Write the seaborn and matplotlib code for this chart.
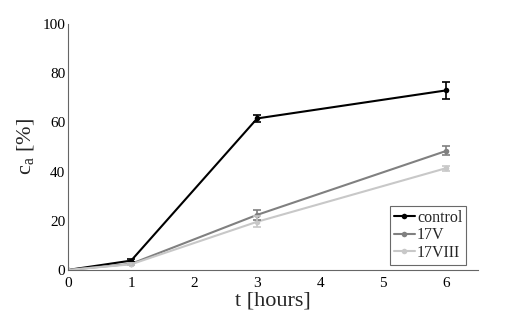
import matplotlib
matplotlib.use("Agg")
import matplotlib.pyplot as plt
import seaborn as sns
import pandas as pd

t = [0, 1, 3, 6]
control = [0, 3.8, 61.6, 73.0]
control_err = [0, 0.6, 1.4, 3.5]
v17 = [0, 2.5, 22.4, 48.4]
v17_err = [0, 0.4, 2.0, 1.8]
v17viii = [0, 2.3, 19.6, 41.4]
v17viii_err = [0, 0.4, 2.2, 1.0]

series = ["control", "17V", "17VIII"]
colors = ["#000000", "#808080", "#c8c8c8"]

rows = []
for name, vals, errs in [("control", control, control_err), ("17V", v17, v17_err), ("17VIII", v17viii, v17viii_err)]:
    for ti, v, e in zip(t, vals, errs):
        rows.append({"t": ti, "value": v, "err": e, "series": name})
df = pd.DataFrame(rows)

sns.set_style("white")
plt.rcParams["font.family"] = ["Liberation Serif", "DejaVu Serif"]
plt.rcParams["mathtext.fontset"] = "custom"
plt.rcParams["mathtext.rm"] = "Liberation Serif"

fig = plt.figure(figsize=(5.28, 3.11), dpi=100)
ax = fig.add_axes([0.129, 0.132, 0.776, 0.791])

sns.lineplot(data=df, x="t", y="value", hue="series", hue_order=series,
             palette=colors, marker="o", markersize=4, markeredgewidth=0,
             linewidth=1.5, ax=ax, legend=True)
for name, c in zip(series, colors):
    sub = df[df.series == name]
    ax.errorbar(sub["t"], sub["value"], yerr=sub["err"], fmt="none",
                ecolor=c, elinewidth=1.2, capsize=3, capthick=1.2)

ax.set_xlim(0, 6.5)
ax.set_ylim(0, 100)
ax.set_xticks([0, 1, 2, 3, 4, 5, 6])
ax.set_yticks([0, 20, 40, 60, 80, 100])
ax.tick_params(direction="in", length=4, width=0.8, color="#666666",
               labelsize=11, labelcolor="black")
ax.tick_params(axis="x", pad=5)
ax.tick_params(axis="y", pad=2)
for s in ["top", "right"]:
    ax.spines[s].set_visible(False)
for s in ["left", "bottom"]:
    ax.spines[s].set_color("#666666")
    ax.spines[s].set_linewidth(0.8)

ax.set_xlabel("t [hours]", fontsize=16, labelpad=1)
ax.set_ylabel(r"c$_\mathregular{a}$ [%]", fontsize=16, labelpad=4)

leg = ax.legend(loc="lower right", bbox_to_anchor=(0.972, 0.02), fontsize=11.5,
                frameon=True, fancybox=False,
                handlelength=1.3, handletextpad=0.15, borderpad=0.25,
                labelspacing=0.1, borderaxespad=0.0)
leg.get_frame().set_edgecolor("#444444")
leg.get_frame().set_linewidth(0.8)
leg.set_title(None)

fig.savefig("out.png", dpi=100)
